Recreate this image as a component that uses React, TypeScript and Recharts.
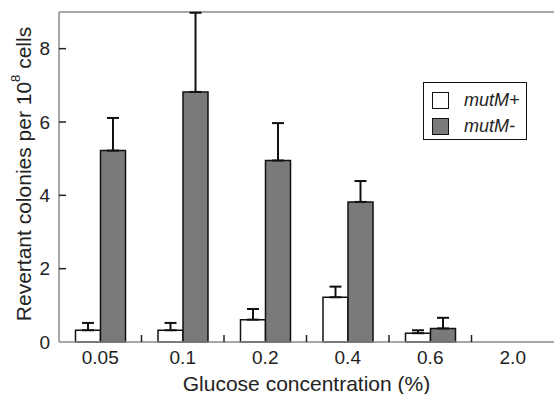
import React from 'react';
import {
  BarChart,
  Bar,
  XAxis,
  YAxis,
  ErrorBar,
  Legend,
  ReferenceLine
} from 'recharts';

const concentrations = ['0.05', '0.1', '0.2', '0.4', '0.6', '2.0'];
const mutPlus = [0.32, 0.32, 0.61, 1.22, 0.24, 0];
const mutPlusUpper = [0.52, 0.52, 0.9, 1.51, 0.32, null];
const mutMinus = [5.22, 6.82, 4.95, 3.82, 0.37, 0];
const mutMinusUpper = [6.11, 8.98, 5.97, 4.39, 0.66, null];
const yTicks = [0, 2, 4, 6, 8];

const FONT = '"Liberation Sans", Arial, Helvetica, sans-serif';
const AXIS = '#8a8a8a';
const TEXT = '#222';

const data = concentrations.map((c, i) => ({
  conc: c,
  plus: mutPlus[i],
  minus: mutMinus[i],
  plusErr: mutPlusUpper[i] == null ? null : [0, (mutPlusUpper[i] as number) - mutPlus[i]],
  minusErr: mutMinusUpper[i] == null ? null : [0, (mutMinusUpper[i] as number) - mutMinus[i]]
}));

const XTick = (props: any) => {
  const { x, y, payload, index } = props;
  const edge = x + (payload.offset || 0);
  return (
    <g>
      <text x={x} y={y} dy="0.71em" textAnchor="middle" fontSize={19} fontFamily={FONT} fill={TEXT}>
        {payload.value}
      </text>
      {index < concentrations.length - 1 && (
        <line x1={edge} x2={edge} y1={y - 9} y2={y - 16} stroke={TEXT} strokeWidth={1.5} />
      )}
    </g>
  );
};

const YTick = (props: any) => {
  const { x, y, payload } = props;
  return (
    <g>
      <text x={x} y={y} dy="0.355em" textAnchor="end" fontSize={19} fontFamily={FONT} fill={TEXT}>
        {payload.value}
      </text>
      {payload.value !== 0 && (
        <line x1={x + 9} x2={x + 16} y1={y} y2={y} stroke={TEXT} strokeWidth={1.5} />
      )}
    </g>
  );
};

const YLabel = (props: any) => {
  const vb = props.viewBox || { x: 0, y: 0, width: 0, height: 0 };
  const cx = vb.x + 23;
  const cy = vb.y + vb.height / 2 - 3;
  return (
    <text
      x={cx}
      y={cy}
      transform={`rotate(-90, ${cx}, ${cy})`}
      textAnchor="middle"
      dominantBaseline="central"
      fontSize={21}
      fontFamily={FONT}
      fill={TEXT}
    >
      Revertant colonies per 10
      <tspan dy={-8} fontSize={13}>8</tspan>
      <tspan dy={8}> cells</tspan>
    </text>
  );
};

const LegendBox = (props: any) => {
  const { payload } = props;
  return (
    <div
      style={{
        width: 104,
        height: 58,
        border: '1.5px solid #111',
        background: '#fff',
        boxSizing: 'border-box',
        position: 'relative'
      }}
    >
      {(payload || []).map((entry: any, i: number) => (
        <div
          key={entry.value}
          style={{ position: 'absolute', left: 8, top: 8 + i * 26, height: 18, display: 'flex', alignItems: 'center' }}
        >
          <span
            style={{
              display: 'inline-block',
              width: 17,
              height: 17,
              boxSizing: 'border-box',
              border: '1.5px solid #111',
              background: entry.color
            }}
          />
          <span
            style={{
              marginLeft: 15,
              fontFamily: FONT,
              fontStyle: 'italic',
              fontSize: 18,
              color: TEXT
            }}
          >
            {entry.value}
          </span>
        </div>
      ))}
    </div>
  );
};

export default function App() {
  return (
    <div style={{ position: 'absolute', left: 0, top: 0, background: '#fff' }}>
      <BarChart
        width={554}
        height={394}
        data={data}
        margin={{ top: 12, right: 0, bottom: 0, left: 0 }}
        barCategoryGap="20%"
        barGap={0}
      >
        <XAxis
          dataKey="conc"
          height={52}
          tickLine={false}
          tickSize={0}
          tickMargin={9}
          axisLine={{ stroke: AXIS, strokeWidth: 1.5 }}
          tick={<XTick />}
          interval={0}
          label={{
            value: 'Glucose concentration (%)',
            position: 'insideBottom',
            offset: 3,
            fontSize: 21,
            fontFamily: FONT,
            fill: TEXT
          }}
        />
        <YAxis
          width={59}
          domain={[0, 9]}
          ticks={yTicks}
          tickLine={false}
          tickSize={0}
          tickMargin={9}
          axisLine={{ stroke: AXIS, strokeWidth: 1.5 }}
          tick={<YTick />}
          label={<YLabel />}
        />
        <ReferenceLine y={9} stroke={AXIS} strokeWidth={1.5} />
        <Legend
          layout="vertical"
          align="center"
          verticalAlign="middle"
          wrapperStyle={{ left: 423, top: 82, width: 104, height: 58 }}
          content={<LegendBox />}
        />
        <Bar dataKey="plus" name="mutM+" fill="#ffffff" stroke="#111" strokeWidth={1.5} isAnimationActive={false}>
          <ErrorBar dataKey="plusErr" width={6} stroke="#111" strokeWidth={2} direction="y" />
        </Bar>
        <Bar dataKey="minus" name="mutM-" fill="#7a7a7a" stroke="#111" strokeWidth={1.5} isAnimationActive={false}>
          <ErrorBar dataKey="minusErr" width={6} stroke="#111" strokeWidth={2} direction="y" />
        </Bar>
      </BarChart>
    </div>
  );
}
